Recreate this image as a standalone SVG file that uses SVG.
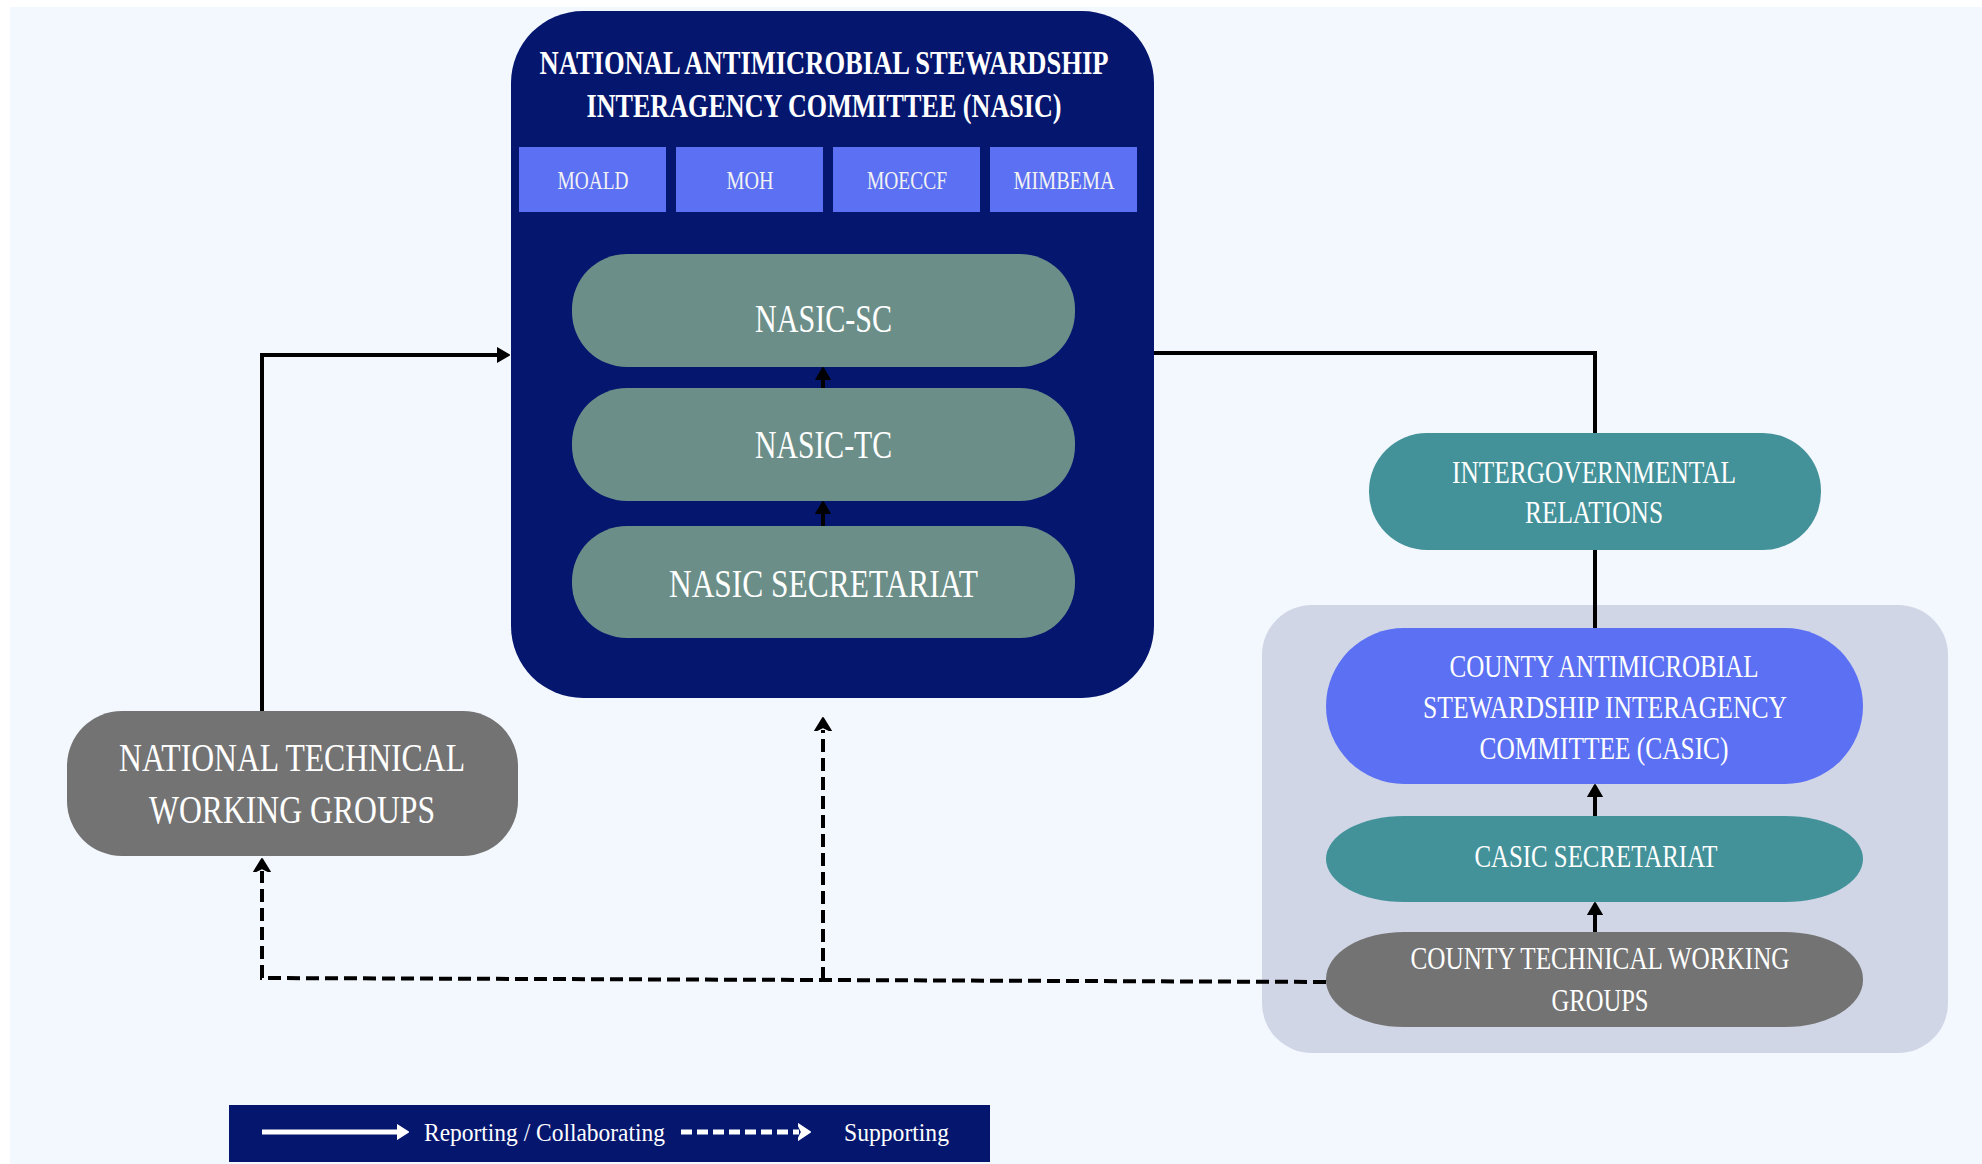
<svg xmlns="http://www.w3.org/2000/svg" width="1982" height="1164" viewBox="0 0 1982 1164">
<style>
  .t { font-family: "Liberation Serif", "Times New Roman", serif; fill: #ffffff; text-anchor: middle; }
  .title { font-size: 33px; font-weight: bold; }
  .sub { font-size: 25px; fill: #f2f2f2; }
  .big { font-size: 39px; }
  .mid { font-size: 32px; }
  .leg { font-size: 26px; text-anchor: start; }
  .navy { fill: #05166f; }
  .blue { fill: #5b70f3; }
  .sage { fill: #6b8f88; }
  .teal { fill: #43929a; }
  .gray { fill: #737373; }
  .line { fill: none; stroke: #000; stroke-width: 4; }
  .dash { fill: none; stroke: #000; stroke-width: 4; stroke-dasharray: 13 6; }
</style>
<defs>
  <marker id="arr" markerUnits="userSpaceOnUse" markerWidth="24" markerHeight="24" viewBox="0 -12 24 24" refX="1" refY="0" orient="auto">
    <path d="M0,-7 L12,0 L0,7 Z" fill="#000" stroke="#000" stroke-width="2" stroke-linejoin="round"/>
  </marker>
  <marker id="arrd" markerUnits="userSpaceOnUse" markerWidth="24" markerHeight="24" viewBox="0 -12 24 24" refX="1" refY="0" orient="auto">
    <path d="M0,-8 L13,0 L0,8 L4,0 Z" fill="#000" stroke="#000" stroke-width="2" stroke-linejoin="round"/>
  </marker>
  <marker id="arrw" markerUnits="userSpaceOnUse" markerWidth="24" markerHeight="24" viewBox="0 -12 24 24" refX="1" refY="0" orient="auto">
    <path d="M0,-7 L11,0 L0,7 Z" fill="#fff" stroke="#fff" stroke-width="2" stroke-linejoin="round"/>
  </marker>
  <marker id="arrwd" markerUnits="userSpaceOnUse" markerWidth="24" markerHeight="24" viewBox="0 -12 24 24" refX="1" refY="0" orient="auto">
    <path d="M0,-8 L12,0 L0,8 L4,0 Z" fill="#fff" stroke="#fff" stroke-width="2" stroke-linejoin="round"/>
  </marker>
</defs>

<rect x="0" y="0" width="1982" height="1164" fill="#ffffff"/>
<rect x="10" y="7" width="1972" height="1157" fill="#f3f7fe"/>

<g id="county-container">
  <rect x="1262" y="605" width="686" height="448" rx="50" ry="50" fill="#d0d6e6"/>
</g>

<g id="nasic">
  <rect x="511" y="11" width="643" height="687" rx="72" ry="72" class="navy"/>
  <text class="t title" x="824" y="74" textLength="569" lengthAdjust="spacingAndGlyphs">NATIONAL ANTIMICROBIAL STEWARDSHIP</text>
  <text class="t title" x="824" y="117" textLength="475" lengthAdjust="spacingAndGlyphs">INTERAGENCY COMMITTEE (NASIC)</text>
</g>

<g id="moald">
  <rect x="519" y="147" width="147" height="65" class="blue"/>
  <text class="t sub" x="593" y="189" textLength="71" lengthAdjust="spacingAndGlyphs">MOALD</text>
</g>
<g id="moh">
  <rect x="676" y="147" width="147" height="65" class="blue"/>
  <text class="t sub" x="750" y="189" textLength="47" lengthAdjust="spacingAndGlyphs">MOH</text>
</g>
<g id="moeccf">
  <rect x="833" y="147" width="147" height="65" class="blue"/>
  <text class="t sub" x="907" y="189" textLength="80" lengthAdjust="spacingAndGlyphs">MOECCF</text>
</g>
<g id="mimbema">
  <rect x="990" y="147" width="147" height="65" class="blue"/>
  <text class="t sub" x="1064" y="189" textLength="101" lengthAdjust="spacingAndGlyphs">MIMBEMA</text>
</g>

<g id="nasic-sc">
  <rect x="572" y="254" width="503" height="113" rx="55" ry="55" class="sage"/>
  <text class="t big" x="823.5" y="332" textLength="137" lengthAdjust="spacingAndGlyphs">NASIC-SC</text>
</g>
<g id="nasic-tc">
  <rect x="572" y="388" width="503" height="113" rx="55" ry="55" class="sage"/>
  <text class="t big" x="823.5" y="458" textLength="137" lengthAdjust="spacingAndGlyphs">NASIC-TC</text>
</g>
<g id="nasic-secretariat">
  <rect x="572" y="526" width="503" height="112" rx="55" ry="55" class="sage"/>
  <text class="t big" x="823.5" y="597" textLength="309" lengthAdjust="spacingAndGlyphs">NASIC SECRETARIAT</text>
</g>

<g id="national-twg">
  <rect x="67" y="711" width="451" height="145" rx="55" ry="55" class="gray"/>
  <text class="t big" x="292" y="771" textLength="346" lengthAdjust="spacingAndGlyphs">NATIONAL TECHNICAL</text>
  <text class="t big" x="292" y="823" textLength="286" lengthAdjust="spacingAndGlyphs">WORKING GROUPS</text>
</g>

<g id="intergovernmental">
  <rect x="1369" y="433" width="452" height="117" rx="58" ry="58" class="teal"/>
  <text class="t mid" x="1594" y="483" textLength="284" lengthAdjust="spacingAndGlyphs">INTERGOVERNMENTAL</text>
  <text class="t mid" x="1594" y="523" textLength="138" lengthAdjust="spacingAndGlyphs">RELATIONS</text>
</g>

<g id="casic">
  <rect x="1326" y="628" width="537" height="156" rx="78" ry="78" class="blue"/>
  <text class="t mid" x="1604" y="677" textLength="309" lengthAdjust="spacingAndGlyphs">COUNTY ANTIMICROBIAL</text>
  <text class="t mid" x="1605" y="718" textLength="364" lengthAdjust="spacingAndGlyphs">STEWARDSHIP INTERAGENCY</text>
  <text class="t mid" x="1604" y="759" textLength="249" lengthAdjust="spacingAndGlyphs">COMMITTEE (CASIC)</text>
</g>

<g id="casic-secretariat">
  <rect x="1326" y="816" width="537" height="86" rx="78" ry="43" class="teal"/>
  <text class="t mid" x="1596" y="867" textLength="243" lengthAdjust="spacingAndGlyphs">CASIC SECRETARIAT</text>
</g>

<g id="county-twg">
  <rect x="1326" y="932" width="537" height="95" rx="78" ry="47" class="gray"/>
  <text class="t mid" x="1600" y="969" textLength="379" lengthAdjust="spacingAndGlyphs">COUNTY TECHNICAL WORKING</text>
  <text class="t mid" x="1600" y="1011" textLength="97" lengthAdjust="spacingAndGlyphs">GROUPS</text>
</g>

<g id="connectors">
  <path class="line" d="M262,711 V355 H498" marker-end="url(#arr)"/>
  <path class="line" d="M1154,353 H1595 V433"/>
  <path class="line" d="M1595,550 V628"/>
  <path class="line" d="M823,388 V379" marker-end="url(#arr)"/>
  <path class="line" d="M823,526 V513" marker-end="url(#arr)"/>
  <path class="line" d="M1595,816 V796" marker-end="url(#arr)"/>
  <path class="line" d="M1595,932 V914" marker-end="url(#arr)"/>
  <path class="dash" d="M1326,982 L823,980 L262,978 V871" marker-end="url(#arrd)"/>
  <path class="dash" d="M823,980 V730" marker-end="url(#arrd)"/>
</g>

<g id="legend">
  <rect x="229" y="1105" width="761" height="57" class="navy"/>
  <path d="M262,1132 H398" fill="none" stroke="#fff" stroke-width="5" marker-end="url(#arrw)"/>
  <text class="t leg" x="424" y="1141" textLength="241" lengthAdjust="spacingAndGlyphs">Reporting / Collaborating</text>
  <path d="M681,1132 H799" fill="none" stroke="#fff" stroke-width="5" stroke-dasharray="11 5" marker-end="url(#arrwd)"/>
  <text class="t leg" x="844" y="1141" textLength="105" lengthAdjust="spacingAndGlyphs">Supporting</text>
</g>
</svg>
